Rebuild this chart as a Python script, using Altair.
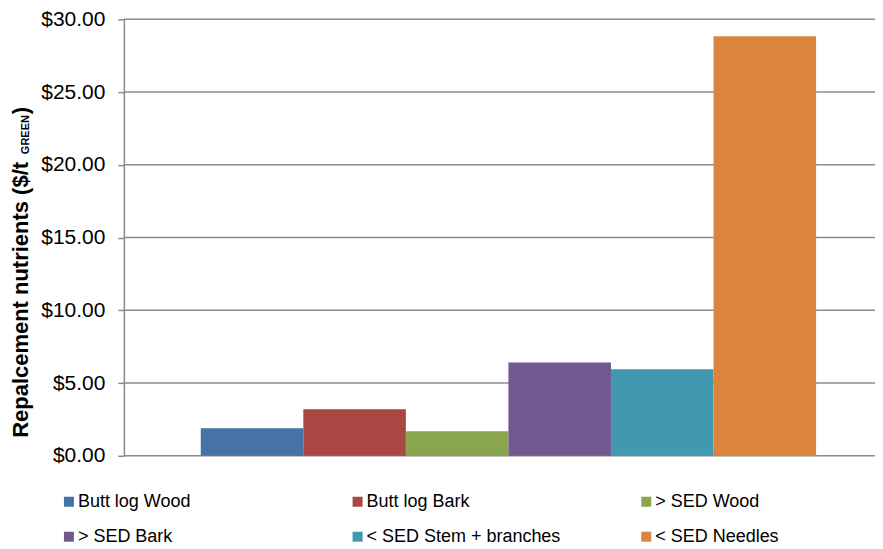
import altair as alt
import pandas as pd

series = ["Butt log Wood", "Butt log Bark", "> SED Wood", "> SED Bark",
          "< SED Stem + branches", "< SED Needles"]
values = [1.90, 3.20, 1.69, 6.42, 5.94, 28.83]
colors = ["#4572A7", "#AA4643", "#89A54E", "#71588F", "#4198AF", "#DB843D"]
y_ticks = [0, 5, 10, 15, 20, 25, 30]
title_main = "Repalcement nutrients ($/t"
title_sub = "GREEN"
title_close = ")"

df = pd.DataFrame({"series": series, "value": values})
grid_df = pd.DataFrame({"v": y_ticks})

W, H = 752, 437
FONT = "Liberation Sans"
GRID = "#8c8c8c"

yscale = alt.Scale(domain=[0, 30], nice=False, zero=True)
yaxis = alt.Axis(values=y_ticks, format="$.2f", title=None,
                 grid=False,
                 domainColor=GRID, domainWidth=1.5,
                 tickColor=GRID, tickWidth=1.5, tickSize=6,
                 labelFont=FONT, labelFontSize=21, labelColor="black",
                 labelPadding=13)

grid = alt.Chart(grid_df).mark_rule(color=GRID, strokeWidth=1.5).encode(
    y=alt.Y("v:Q", scale=yscale, axis=yaxis),
    x=alt.value(0), x2=alt.value(W),
)

bars = alt.Chart(df).mark_bar().encode(
    x=alt.X("series:N", sort=series, axis=None,
            scale=alt.Scale(range=[77, 693], paddingInner=0, paddingOuter=0)),
    y=alt.Y("value:Q", scale=yscale, axis=yaxis),
    color=alt.Color("series:N", sort=series,
                    scale=alt.Scale(domain=series, range=colors),
                    legend=alt.Legend(orient="none", legendX=-64, legendY=474,
                                      direction="horizontal", columns=3,
                                      gridAlign="all", symbolType="square",
                                      symbolSize=100, symbolStrokeWidth=0,
                                      symbolOpacity=1,
                                      labelFont=FONT, labelFontSize=18,
                                      labelColor="black", labelOffset=0,
                                      columnPadding=76, rowPadding=17,
                                      title=None, padding=0, labelLimit=400)),
)

t1 = alt.Chart(pd.DataFrame({"t": [title_main]})).mark_text(
    angle=270, align="left", baseline="middle", font=FONT,
    fontWeight="bold", fontSize=22, color="black"
).encode(x=alt.value(-103), y=alt.value(419), text="t:N")

t2 = alt.Chart(pd.DataFrame({"t": [title_sub]})).mark_text(
    angle=270, align="left", baseline="middle", font=FONT,
    fontWeight="bold", fontSize=11, color="black"
).encode(x=alt.value(-98), y=alt.value(135), text="t:N")

t3 = alt.Chart(pd.DataFrame({"t": [title_close]})).mark_text(
    angle=270, align="left", baseline="middle", font=FONT,
    fontWeight="bold", fontSize=22, color="black"
).encode(x=alt.value(-103), y=alt.value(95), text="t:N")

chart = alt.layer(grid, bars, t1, t2, t3).properties(
    width=W, height=H,
    autosize=alt.AutoSizeParams(type="none"),
    padding={"left": 116, "top": 11, "right": 0, "bottom": 90},
).configure_view(stroke=None)

chart.save("out.html", embed_options={"renderer": "svg", "actions": False})
